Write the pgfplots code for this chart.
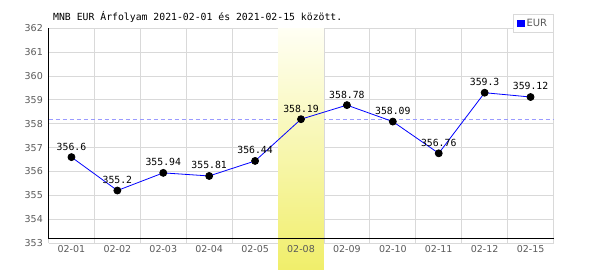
\documentclass[border=0pt]{standalone}
\usepackage{pgfplots}
\pgfplotsset{compat=1.18}
\usepackage{fontspec}
\setmainfont{DejaVu Sans}
\newfontfamily\monofont{DejaVu Sans Mono}
\definecolor{gridgray}{HTML}{D9D9D9}
\definecolor{labgray}{HTML}{5A5A5A}
\definecolor{bandtop}{HTML}{FFFFF4}
\definecolor{bandbot}{HTML}{F0EE6A}
\definecolor{avgblue}{HTML}{9A9AFF}
\begin{document}
\begin{tikzpicture}
\useasboundingbox (0,0) rectangle (600bp,270bp);
\begin{axis}[
  at={(48.5bp,27bp)}, anchor=south west,
  scale only axis, width=505bp, height=214.7bp,
  xmin=-0.5, xmax=10.5, ymin=353, ymax=362,
  clip=false,
  axis line style={draw=none},
  xtick={0,...,10},
  xticklabels={02-01,02-02,02-03,02-04,02-05,02-08,02-09,02-10,02-11,02-12,02-15},
  minor xtick={-0.5,0.5,...,10.5},
  ytick={353,...,362},
  ymajorgrids, xminorgrids,
  major grid style={gridgray, line width=0.9bp},
  minor grid style={gridgray, line width=0.9bp},
  major tick length=0pt, minor tick length=0pt,
  tick label style={font=\fontsize{9.5bp}{11bp}\selectfont, text=labgray},
  /pgf/number format/assume math mode=true,
  xticklabel style={anchor=north, inner sep=0pt, yshift=-1.8bp},
  yticklabel style={anchor=east, inner sep=0pt, xshift=-5.5bp},
  legend style={at={(1,1.068)}, anchor=north east, draw=gridgray, line width=0.8bp,
    fill=white, font=\fontsize{10bp}{12bp}\selectfont\color{labgray},
    inner xsep=4bp, inner ysep=3bp},
  legend image code/.code={\fill[blue] (0bp,-3bp) rectangle (6.5bp,3.5bp);},
  legend cell align=left,
]
\addplot[avgblue, line width=1.1bp, dash pattern=on 4bp off 3bp, forget plot] coordinates {(-0.5,358.19) (10.5,358.19)};
\fill[top color=bandtop, bottom color=bandbot] (axis cs:4.5,362) rectangle (axis cs:5.5,351.85);
\node[anchor=north, inner sep=0pt, yshift=-1.8bp, font=\fontsize{9.5bp}{11bp}\selectfont, text=labgray] at (axis cs:5,353) {02-08};
\addplot[blue, line width=0.8bp, mark=*, mark size=3.5bp,
  mark options={fill=black, draw=black},
  point meta=explicit symbolic,
  nodes near coords,
  nodes near coords style={font=\monofont\fontsize{9.8bp}{11bp}\selectfont, text=black, anchor=south, inner sep=0pt, yshift=6.5bp},
] coordinates {
(0,356.6) [356.6]
(1,355.2) [355.2]
(2,355.94) [355.94]
(3,355.81) [355.81]
(4,356.44) [356.44]
(5,358.19) [358.19]
(6,358.78) [358.78]
(7,358.09) [358.09]
(8,356.76) [356.76]
(9,359.3) [359.3]
(10,359.12) [359.12]
};
\addlegendentry{EUR}
\draw[black, line width=0.9bp] (axis cs:-0.5,362) -- (axis cs:-0.5,353.21) -- (axis cs:10.5,353.21);
\end{axis}
\node[anchor=base west, inner sep=0pt, font=\monofont\fontsize{9.8bp}{11bp}\selectfont] at (53bp,249bp) {MNB EUR Árfolyam 2021-02-01 és 2021-02-15 között.};
\end{tikzpicture}
\end{document}
